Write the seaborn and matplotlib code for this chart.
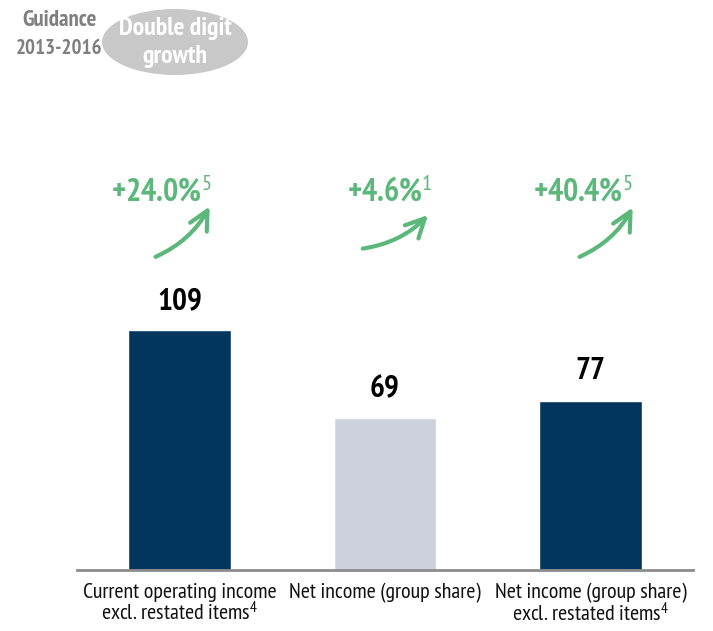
import matplotlib
matplotlib.use("Agg")
import matplotlib.pyplot as plt
import seaborn as sns
import pandas as pd
from matplotlib.patches import Ellipse, FancyArrowPatch

categories = ["Current operating income\nexcl. restated items$^{4}$",
              "Net income (group share)",
              "Net income (group share)\nexcl. restated items$^{4}$"]
values = [109, 69, 77]
growth_labels = ["+24.0%$^{5}$", "+4.6%$^{1}$", "+40.4%$^{5}$"]
bar_colors = ["#03365f", "#ccd1dd", "#03365f"]

sns.set_theme(style="white")
fam = "PT Sans Narrow"
plt.rcParams["font.family"] = [fam, "DejaVu Sans"]
plt.rcParams["mathtext.fontset"] = "custom"
plt.rcParams["mathtext.rm"] = fam
plt.rcParams["mathtext.it"] = fam
plt.rcParams["mathtext.bf"] = fam + ":bold"

W, H = 713, 631
fig = plt.figure(figsize=(W / 100, H / 100), dpi=100)
ax = fig.add_axes([77 / W, 61 / H, 616 / W, 440 / H])

df = pd.DataFrame({"cat": categories, "val": values})
sns.barplot(data=df, x="cat", y="val", hue="cat", palette=bar_colors,
            width=0.5, legend=False, ax=ax, saturation=1)
ax.set_xlim(-0.5, 2.5)
ax.set_ylim(0, 200)
for s in ["top", "right", "left"]:
    ax.spines[s].set_visible(False)
ax.spines["bottom"].set_color("#8c8c8c")
ax.spines["bottom"].set_linewidth(2)
ax.set_yticks([])
ax.set_xlabel("")
ax.set_ylabel("")
ax.tick_params(axis="x", length=0, pad=9, labelsize=15.8, colors="#111111")
for lbl in ax.get_xticklabels():
    lbl.set_linespacing(1.0)

for i, v in enumerate(values):
    ax.annotate(str(v), (i, v), xytext=(0, 11), textcoords="offset points",
                ha="center", va="bottom", fontsize=22.5, fontweight="bold", color="black")

green = "#5cb77b"


def fx(x):
    return x / W


def fy(y):
    return 1 - y / H


lab_pos = [(161, 192), (390, 192), (583, 192)]
arrows = [((153, 258), (211, 204)), ((360, 249), (430, 213)), ((577, 258), (634, 205))]
for (lx, ly), txt in zip(lab_pos, growth_labels):
    fig.text(fx(lx), fy(ly), txt, ha="center", va="center",
             fontsize=23, fontweight="bold", color=green)
for (t, h) in arrows:
    p = FancyArrowPatch((fx(t[0]), fy(t[1])), (fx(h[0]), fy(h[1])),
                        transform=fig.transFigure, connectionstyle="arc3,rad=0.18",
                        arrowstyle="->,head_length=8,head_width=4", color=green,
                        lw=3, mutation_scale=1.7, capstyle="round", joinstyle="round")
    fig.patches.append(p)

# guidance header
fig.text(fx(60), fy(21), "Guidance", ha="center", va="center",
         fontsize=16.5, fontweight="bold", color="#7f7f7f")
fig.text(fx(59), fy(48), "2013-2016", ha="center", va="center",
         fontsize=15, fontweight="bold", color="#7f7f7f")
ell = Ellipse((fx(175), fy(42)), 146 / W, 66 / H,
              transform=fig.transFigure, facecolor="#c8c8c8", edgecolor="none")
fig.patches.append(ell)
fig.text(fx(175), fy(28), "Double digit", ha="center", va="center",
         fontsize=18.5, fontweight="bold", color="white")
fig.text(fx(175), fy(57), "growth", ha="center", va="center",
         fontsize=18.5, fontweight="bold", color="white")

fig.savefig("out.png", dpi=100)
